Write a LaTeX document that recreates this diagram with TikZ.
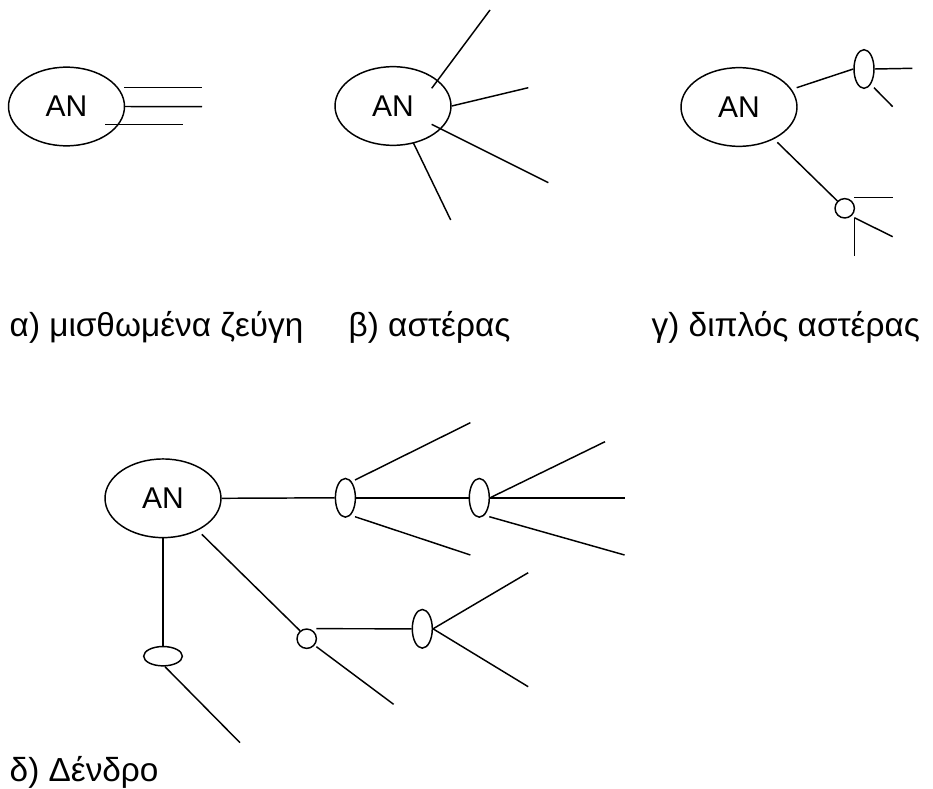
\documentclass[tikz,border=0pt]{standalone}
\usepackage{fontspec}
\setmainfont{Liberation Sans}
\usetikzlibrary{shapes.geometric,calc}

\begin{document}
\begin{tikzpicture}[x=0.75pt,y=-0.75pt,line width=1.1pt,
    font=\fontsize{22.5}{27}\selectfont,
    an/.style={draw,ellipse,inner sep=0pt,minimum width=87pt,minimum height=59pt},
    vnode/.style={draw,ellipse,inner sep=0pt,minimum width=15pt,minimum height=29pt},
    hnode/.style={draw,ellipse,inner sep=0pt,minimum width=29pt,minimum height=14.5pt},
    cnode/.style={draw,circle,inner sep=0pt,minimum size=14.5pt},
    caption/.style={anchor=base west,inner sep=0pt,font=\fontsize{25}{30}\selectfont}]
    \useasboundingbox (0,0) rectangle (933,789);

    % (a) three parallel links
    \node[an] (a_AN) at (66.5,106.5) {AN\hspace{7pt}};
    \draw ($(a_AN)+(57.5,-18.8)$) -- ++(78,0) coordinate (a_1);
    \draw (a_AN.east) -- (202,106.7) coordinate (a_2);
    \draw ($(a_AN)+(38.5,17.8)$) -- ++(78,0) coordinate (a_3);

    % (b) star
    \node[an] (b_AN) at (393,106) {AN\hspace{7pt}};
    \coordinate (b_1) at (490,10);
    \coordinate (b_2) at (528.3,87.7);
    \coordinate (b_3) at (548.3,182.7);
    \coordinate (b_4) at (450.7,220);
    \draw ($(b_AN)+(38.7,-17.7)$) -- (b_1);
    \draw (b_AN.east) -- (b_2);
    \draw ($(b_AN)+(38.7,18.3)$) -- (b_3);
    \draw ($(b_AN)+(20.3,36.7)$) -- (b_4);

    % (c) double star
    \node[an] (g_AN) at (739,107) {AN\hspace{7pt}};
    \node[vnode] (g_V) at (864,69) {};
    \node[cnode] (g_C) at (844.7,208.3) {};
    \coordinate (g_1) at (912.3,68.3);
    \coordinate (g_2) at (892.7,106.7);
    \coordinate (g_3) at (892.7,197.7);
    \coordinate (g_4) at (892.7,236.7);
    \coordinate (g_5) at (854.3,256);
    \draw ($(g_AN)+(57.7,-19.3)$) -- (g_V.west);
    \draw (g_V.east) -- (g_1);
    \draw ($(g_V)+(10,18.7)$) -- (g_2);
    \draw ($(g_AN)+(38.3,35.3)$) -- (g_C.135);
    \draw ($(g_C)+(9.6,-10.6)$) -- (g_3);
    \draw ($(g_C)+(9.6,9.4)$) -- (g_4);
    \draw ($(g_C)+(9.6,9.4)$) -- (g_5);

    % (d) tree
    \node[an] (d_AN) at (163,498.3) {AN\hspace{7pt}};
    \node[vnode] (d_V1) at (345.4,497.8) {};
    \node[vnode] (d_V2) at (479.3,497.8) {};
    \node[cnode] (d_C) at (306.7,638.7) {};
    \node[vnode] (d_V3) at (422.3,628.8) {};
    \node[hnode] (d_H) at (163,656.2) {};
    \coordinate (d_1) at (470.4,422.7);
    \coordinate (d_2) at (470.4,555);
    \coordinate (d_3) at (605,441.7);
    \coordinate (d_4) at (624.6,497.8);
    \coordinate (d_5) at (624.6,555);
    \coordinate (d_6) at (528.2,572.7);
    \coordinate (d_7) at (528.2,686.7);
    \coordinate (d_8) at (393.6,704.3);
    \coordinate (d_9) at (240,742.7);
    \draw (d_AN.east) -- (d_V1.west);
    \draw (d_V1.east) -- (d_V2.west);
    \draw ($(d_V1)+(9.6,-17.8)$) -- (d_1);
    \draw ($(d_V1)+(9.6,18.9)$) -- (d_2);
    \draw (d_V2.east) -- (d_3);
    \draw (d_V2.east) -- (d_4);
    \draw ($(d_V2)+(10,18.9)$) -- (d_5);
    \draw ($(d_AN)+(38.8,36)$) -- (d_C.130);
    \draw ($(d_C)+(9.7,-10)$) -- (d_V3.west);
    \draw (d_V3.east) -- (d_6);
    \draw (d_V3.east) -- (d_7);
    \draw ($(d_C)+(9.7,8)$) -- (d_8);
    \draw (d_AN.south) -- (d_H.north);
    \draw ($(d_H)+(2,10.5)$) -- (d_9);

    % captions
    \node[caption] (cap_a) at (9,336) {α) μισθωμένα ζεύγη};
    \node[caption] (cap_b) at (348,336) {β) αστέρας};
    \node[caption] (cap_g) at (651,336) {γ) διπλός αστέρας};
    \node[caption] (cap_d) at (9,781) {δ) Δένδρο};
\end{tikzpicture}
\end{document}
